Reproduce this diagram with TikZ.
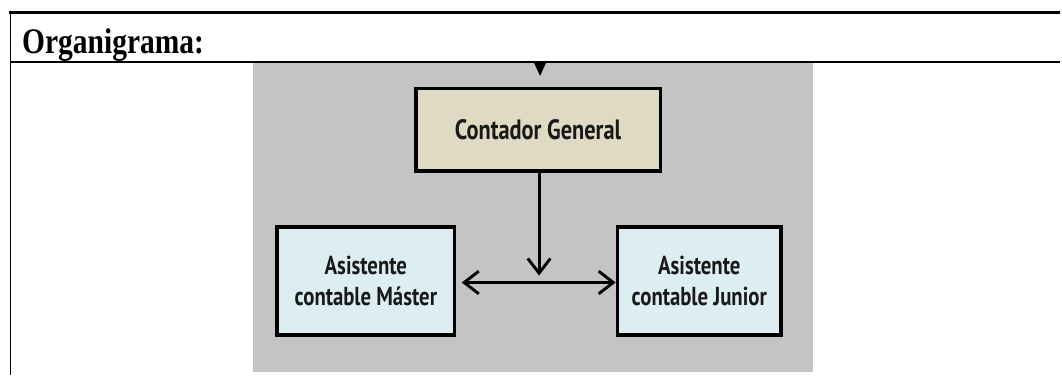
\documentclass[tikz,border=0pt]{standalone}
\usepackage{fontspec}
\setmainfont{Liberation Serif}
\newfontfamily\titlefont[FakeStretch=0.82]{Liberation Serif}
\newfontfamily\boxfont[FakeStretch=0.8]{PT Sans}
\usetikzlibrary{arrows.meta}

\definecolor{fondo}{HTML}{C4C4C4}
\definecolor{jefe}{HTML}{E0DAC4}
\definecolor{asist}{HTML}{DDEEF3}

\tikzset{
	cargo/.style={draw=black, line width=2.6pt, inner sep=0pt, align=center, text=black!90},
	punta/.tip={Straight Barb[length=11pt, width=17pt, line width=2.2pt]},
	flecha/.style={line width=2.2pt},
}

\begin{document}
\begin{tikzpicture}[x=0.75pt, y=-0.75pt]
			%%%%% START %%%%%
			
			\fill[white] (0, 0) rectangle (1062, 376);
			
			% tabla
			\draw[line width=2.8pt] (9, 12.5) -- (1062, 12.5);
			\draw[line width=1.4pt] (10.5, 11.5) -- (10.5, 376);
			\draw[line width=1.4pt] (10, 62) -- (1062, 62);
			\node[anchor=base west, inner sep=0pt, font=\titlefont\bfseries\fontsize{27}{30}\selectfont] (titulo) at (22, 54) {Organigrama:};
			
			% fondo gris
			\fill[fondo] (253, 63) rectangle (814, 373);
			\fill[black] (535, 63) -- (547, 63) -- (541, 76) -- cycle;
			
			\node[cargo, fill=jefe, minimum width=245*0.75pt, minimum height=83*0.75pt, font=\boxfont\bfseries\fontsize{21}{24}\selectfont] (general) at (539, 130) {Contador General};
			\node[cargo, fill=asist, minimum width=178*0.75pt, minimum height=108*0.75pt, font=\boxfont\bfseries\fontsize{19.5}{23.5}\selectfont] (master) at (366.5, 281.5) {Asistente\\contable Máster};
			\node[cargo, fill=asist, minimum width=164*0.75pt, minimum height=108*0.75pt, font=\boxfont\bfseries\fontsize{19.5}{23.5}\selectfont] (junior) at (700.5, 281.5) {Asistente\\contable Junior};
			
			\coordinate (cruce) at (540, 276);
			\draw[flecha, -punta] (general.south -| cruce) -- (cruce);
			\draw[flecha, punta-punta, shorten <=4pt] (master.east |- 0, 283) -- (junior.west |- 0, 283);
			
			%%%%% END %%%%%
		\end{tikzpicture}
\end{document}
